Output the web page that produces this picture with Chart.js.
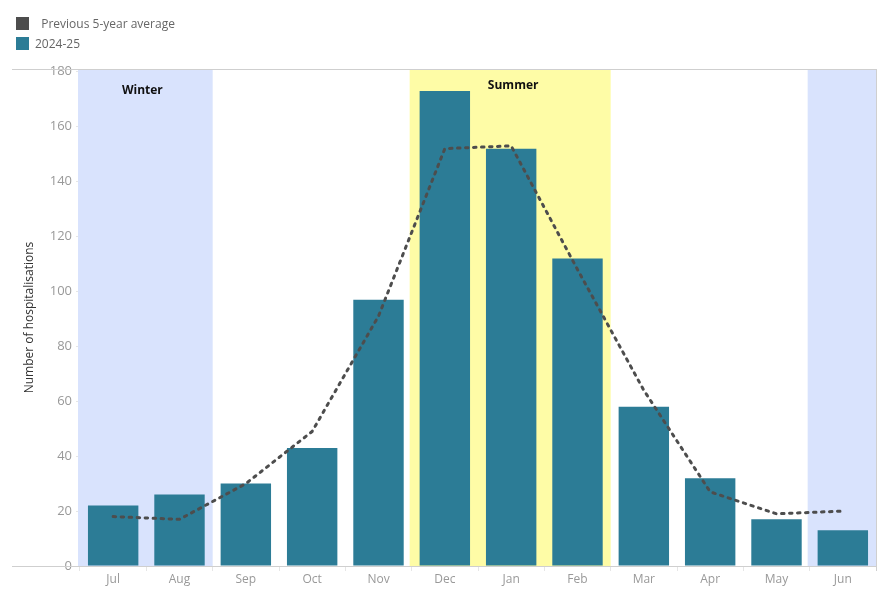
<!DOCTYPE html>
<html>
<head>
<meta charset="utf-8">
<script src="https://cdn.jsdelivr.net/npm/chart.js@4"></script>
<style>
  body { margin: 0; background: #fff; font-family: "Open Sans", sans-serif; }
  #wrap { position: relative; width: 890px; height: 600px; }
  #legend { position: absolute; left: 16px; top: 13px; font-size: 12px; color: #666; }
  .item { display: flex; align-items: center; height: 20px; }
  .sw { width: 13px; height: 13px; margin-right: 6px; }
</style>
</head>
<body>
<div id="wrap">
  <canvas id="myChart" width="890" height="600"></canvas>
  <div id="legend">
    <div class="item"><span class="sw" style="background:#4d4d4d"></span>&nbsp;&nbsp;Previous 5-year average</div>
    <div class="item"><span class="sw" style="background:#2c7c96"></span>2024-25</div>
  </div>
</div>
<script>
const months = ['Jul', 'Aug', 'Sep', 'Oct', 'Nov', 'Dec', 'Jan', 'Feb', 'Mar', 'Apr', 'May', 'Jun'];
const current = [22, 26, 30, 43, 97, 173, 152, 112, 58, 32, 17, 13];
const avg5yr = [18, 17, 30, 49, 91, 152, 153, 108, 64, 27, 19, 20];
const yTicks = [0, 20, 40, 60, 80, 100, 120, 140, 160, 180];

// season bands: first month, last month, label, colour
const seasons = [
    { from: 'Jul', to: 'Aug', label: 'Winter', color: '#d9e3fd', labelY: 91, dx: -4 },
    { from: 'Dec', to: 'Feb', label: 'Summer', color: '#fefca6', labelY: 86, dx: 2 },
    { from: 'Jun', to: 'Jun', label: '', color: '#d9e3fd', labelY: 0, dx: 0 }
];

const bandsPlugin = {
    id: 'bands',
    beforeDatasetsDraw(chart) {
        const c = chart.ctx, x = chart.scales.x, a = chart.chartArea;
        const half = (x.getPixelForValue(1) - x.getPixelForValue(0)) / 2;
        c.save();
        seasons.forEach(s => {
            const x0 = x.getPixelForValue(months.indexOf(s.from)) - half;
            const x1 = x.getPixelForValue(months.indexOf(s.to)) + half;
            c.fillStyle = s.color;
            c.fillRect(x0 - 2, a.top, x1 - x0 + 2, a.bottom - a.top);
            if (s.label) {
                c.fillStyle = '#111';
                c.font = 'bold 12px "Open Sans"';
                c.textAlign = 'center';
                c.textBaseline = 'middle';
                c.fillText(s.label, (x0 + x1) / 2 + s.dx, s.labelY);
            }
        });
        c.restore();
    },
    afterDraw(chart) {
        const c = chart.ctx, a = chart.chartArea;
        c.save();
        c.strokeStyle = '#cfcfcf';
        c.lineWidth = 1;
        c.beginPath();
        c.moveTo(12, a.top + 0.5); c.lineTo(a.right, a.top + 0.5);
        c.moveTo(12, a.bottom + 0.5); c.lineTo(a.right, a.bottom + 0.5);
        c.moveTo(a.right + 0.5, a.top); c.lineTo(a.right + 0.5, a.bottom + 5);
        c.stroke();
        c.restore();
    }
};

const ctx = document.getElementById('myChart').getContext('2d');
const myChart = new Chart(ctx, {
    type: 'bar',
    data: {
        labels: months,
        datasets: [{
            type: 'line',
            label: 'Previous 5-year average',
            data: avg5yr,
            borderColor: '#4d4d4d',
            borderWidth: 3,
            borderDash: [2.5, 5.5],
            borderCapStyle: 'round',
            borderJoinStyle: 'round',
            tension: 0,
            pointRadius: 0,
            order: 0
        }, {
            label: '2024-25',
            data: current,
            backgroundColor: '#2c7c96',
            barPercentage: 0.76,
            categoryPercentage: 1,
            order: 1
        }]
    },
    options: {
        responsive: false,
        animation: false,
        layout: { padding: { top: 69, right: 14, left: 22, bottom: 0 } },
        plugins: {
            legend: { display: false },
            tooltip: { enabled: false }
        },
        scales: {
            x: {
                offset: true,
                grid: { drawOnChartArea: false, offset: true, tickLength: 5, color: '#e6e6e6' },
                border: { display: false },
                ticks: { color: '#999', font: { size: 12, family: 'Open Sans' }, padding: 1 },
                afterFit(s) { s.height = 34; }
            },
            y: {
                min: 0,
                max: 181,
                grid: { drawOnChartArea: false, tickLength: 4, color: '#e6e6e6' },
                border: { display: true, color: '#cfcfcf' },
                afterBuildTicks(s) { s.ticks = yTicks.map(v => ({ value: v })); },
                ticks: { color: '#999', font: { size: 13, family: 'Open Sans' }, padding: 4 },
                title: {
                    display: true,
                    text: 'Number of hospitalisations',
                    color: '#333',
                    font: { size: 12, family: 'Open Sans' },
                    padding: { top: 0, bottom: 14 }
                },
                afterFit(s) { s.width = 58; }
            }
        }
    },
    plugins: [bandsPlugin]
});
</script>
</body>
</html>
